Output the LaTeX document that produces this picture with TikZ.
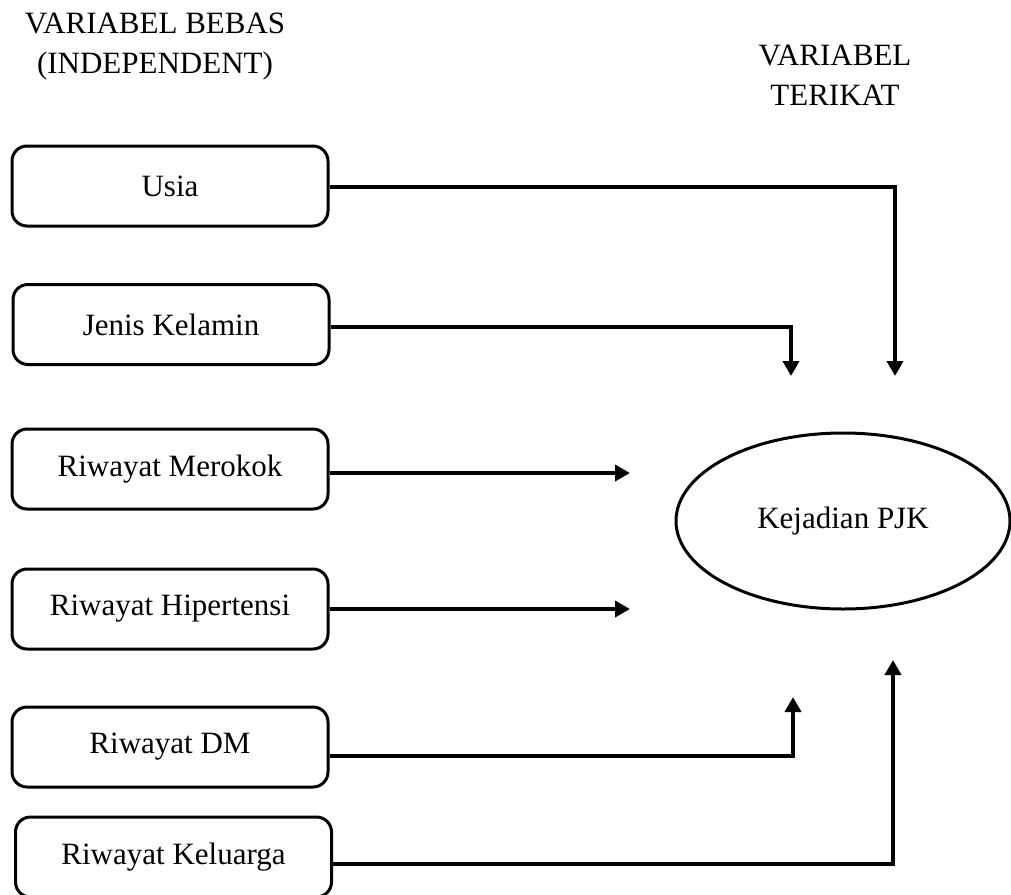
\documentclass[tikz,border=0pt]{standalone}
\usepackage{fontspec}
\setmainfont{Liberation Serif}
\usetikzlibrary{arrows.meta,shapes.geometric}

\begin{document}
\begin{tikzpicture}[x=1pt,y=-1pt,auto,font=\fontsize{31}{40}\selectfont]
\tikzstyle{block} = [rectangle, draw, line width=3pt, rounded corners=15pt,
minimum width=316pt, minimum height=80pt, inner sep=0pt]
\tikzstyle{cloud} = [draw, line width=3pt, ellipse, minimum width=334pt,
minimum height=176pt, inner sep=0pt]
\tikzstyle{line} = [draw, line width=4pt, -{Triangle[length=15pt,width=16pt]}]
\tikzstyle{head} = [align=center, inner sep=0pt]

\useasboundingbox (0,0) rectangle (1011,894);
\clip (0,0) rectangle (1011,894);

% headings
\node [head, anchor=base] (bebas) at (155,73) {VARIABEL BEBAS\\(INDEPENDENT)};
\node [head, anchor=base] (terikat) at (835,105) {VARIABEL\\TERIKAT};

% independent variables
\node [block] (usia) at (170,186) {Usia};
\node [block] (jenis) at (171,324.5) {Jenis Kelamin};
\node [block] (rokok) at (170,469) {Riwayat Merokok};
\node [block] (hiper) at (170,609) {Riwayat Hipertensi};
\node [block] (dm) at (170,747) {Riwayat DM};
\node [block] (keluarga) at (173.5,857) {Riwayat Keluarga};

% dependent variable
\node [cloud] (pjk) at (843,521) {Kejadian PJK};

% arrow ends
\coordinate (inUsia) at (895,376);
\coordinate (inJenis) at (791,376);
\coordinate (inRokok) at (630,473);
\coordinate (inHiper) at (630,609);
\coordinate (inDm) at (793,697);
\coordinate (inKeluarga) at (893,660);

\path [line] ([yshift=-1pt]usia.east) -| (inUsia);
\path [line] ([yshift=-2.5pt]jenis.east) -| (inJenis);
\path [line] ([yshift=-4pt]rokok.east) -- (inRokok);
\path [line] (hiper.east) -- (inHiper);
\path [line] ([yshift=-9pt]dm.east) -| (inDm);
\path [line] ([yshift=-7pt]keluarga.east) -| (inKeluarga);
\end{tikzpicture}
\end{document}
